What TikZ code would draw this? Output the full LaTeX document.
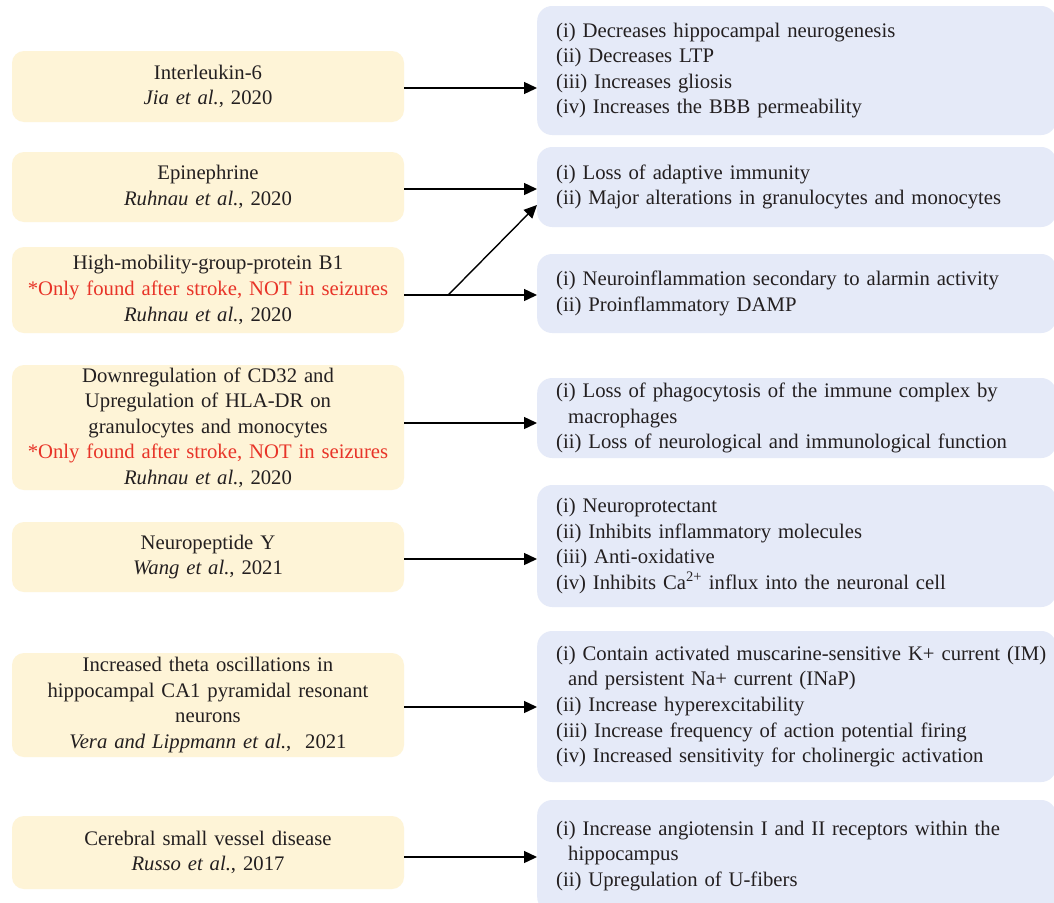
\documentclass[tikz,border=0pt]{standalone}
\usepackage{fontspec}
\setmainfont{Liberation Serif}
\usetikzlibrary{arrows.meta,calc}
\definecolor{ybox}{RGB}{254,244,215}
\definecolor{bbox}{RGB}{229,234,248}
\definecolor{redtxt}{RGB}{232,52,40}
\definecolor{ink}{RGB}{35,31,32}
\newcommand{\diafont}{\fontsize{20.7}{25.6}\selectfont}
\newcommand{\redline}[1]{\textcolor{redtxt}{#1}}
\begin{document}
\begin{tikzpicture}[x=1pt,y=-1pt,
  lbox/.style={fill=ybox,rounded corners=12pt,minimum width=392pt,text width=380pt,align=center,inner xsep=6pt,inner ysep=0pt,font=\diafont,text=ink},
  rbox/.style={fill=bbox,rounded corners=15pt,anchor=west,minimum width=519pt,text width=481pt,align=left,inner xsep=19pt,inner ysep=0pt,font=\diafont,text=ink},
  arr/.style={line width=1.4pt,draw=black,-{Triangle[length=13pt,width=12pt]}}]
\clip (0,0) rectangle (1054,902);
\fill[white] (0,0) rectangle (1054,902);
% left boxes
\node[lbox,minimum height=71pt] (L1) at (208,86.5) {Interleukin-6\\\textit{Jia et al.},~2020};
\node[lbox,minimum height=70pt] (L2) at (208,187) {Epinephrine\\\textit{Ruhnau et al.},~2020};
\node[lbox,minimum height=86pt] (L3) at (208,290) {High-mobility-group-protein B1\\\redline{*Only found after stroke, NOT in seizures}\\\textit{Ruhnau et al.},~2020};
\node[lbox,minimum height=125pt] (L4) at (208,427.5) {Downregulation of CD32 and\\Upregulation of HLA-DR on\\granulocytes and monocytes\\\redline{*Only found after stroke, NOT in seizures}\\\textit{Ruhnau et al.},~2020};
\node[lbox,minimum height=70pt] (L5) at (208,557) {Neuropeptide Y\\\textit{Wang et al.},~2021};
\node[lbox,minimum height=104pt] (L6) at (208,705) {Increased theta oscillations in\\hippocampal CA1 pyramidal resonant\\neurons\\\textit{Vera and Lippmann et al.},~~2021};
\node[lbox,minimum height=73pt] (L7) at (208,852.5) {Cerebral small vessel disease\\\textit{Russo et al.},~2017};
% right boxes
\node[rbox,minimum height=129pt] (R1) at (537,70.5) {(i) Decreases hippocampal neurogenesis\\(ii) Decreases LTP\\(iii) Increases gliosis\\(iv) Increases the BBB permeability};
\node[rbox,minimum height=80pt] (R2) at (537,187) {(i) Loss of adaptive immunity\\(ii) Major alterations in granulocytes and monocytes};
\node[rbox,minimum height=79pt] (R3) at (537,293.5) {(i) Neuroinflammation secondary to alarmin activity\\(ii) Proinflammatory DAMP};
\node[rbox,minimum height=80pt] (R4) at (537,418) {(i) Loss of phagocytosis of the immune complex by\\\hspace*{12pt}macrophages\\(ii) Loss of neurological and immunological function};
\node[rbox,minimum height=122pt] (R5) at (537,546) {(i) Neuroprotectant\\(ii) Inhibits inflammatory molecules\\(iii) Anti-oxidative\\(iv) Inhibits Ca\textsuperscript{2+} influx into the neuronal cell};
\node[rbox,minimum height=151pt] (R6) at (537,706.5) {\mbox{(i) Contain activated muscarine-sensitive K+ current (IM)}\\\hspace*{12pt}and persistent Na+ current (INaP)\\(ii) Increase hyperexcitability\\(iii) Increase frequency of action potential firing\\(iv) Increased sensitivity for cholinergic activation};
\node[rbox,minimum height=112pt] (R7) at (537,856) {(i) Increase angiotensin I and II receptors within the\\\hspace*{12pt}hippocampus\\(ii) Upregulation of U-fibers};
% connectors
\draw[arr] ([yshift=-1.5pt]L1.east) -- ([yshift=-1.5pt]L1.east -| R1.west);
\draw[arr] ([yshift=-2pt]L2.east) -- ([yshift=-2pt]L2.east -| R2.west);
\coordinate (b3) at ([yshift=-5pt]L3.east);
\draw[arr] (b3) -- (b3 -| R3.west);
\coordinate (fork) at ([xshift=44pt]b3);
\draw[arr] (fork) -- ([yshift=-18pt]R2.west);
\draw[arr] ([yshift=4.5pt]L4.east) -- ([yshift=4.5pt]L4.east -| R4.west);
\draw[arr] ([yshift=-2pt]L5.east) -- ([yshift=-2pt]L5.east -| R5.west);
\draw[arr] ([yshift=-2pt]L6.east) -- ([yshift=-2pt]L6.east -| R6.west);
\draw[arr] ([yshift=-4.5pt]L7.east) -- ([yshift=-4.5pt]L7.east -| R7.west);
\end{tikzpicture}
\end{document}
